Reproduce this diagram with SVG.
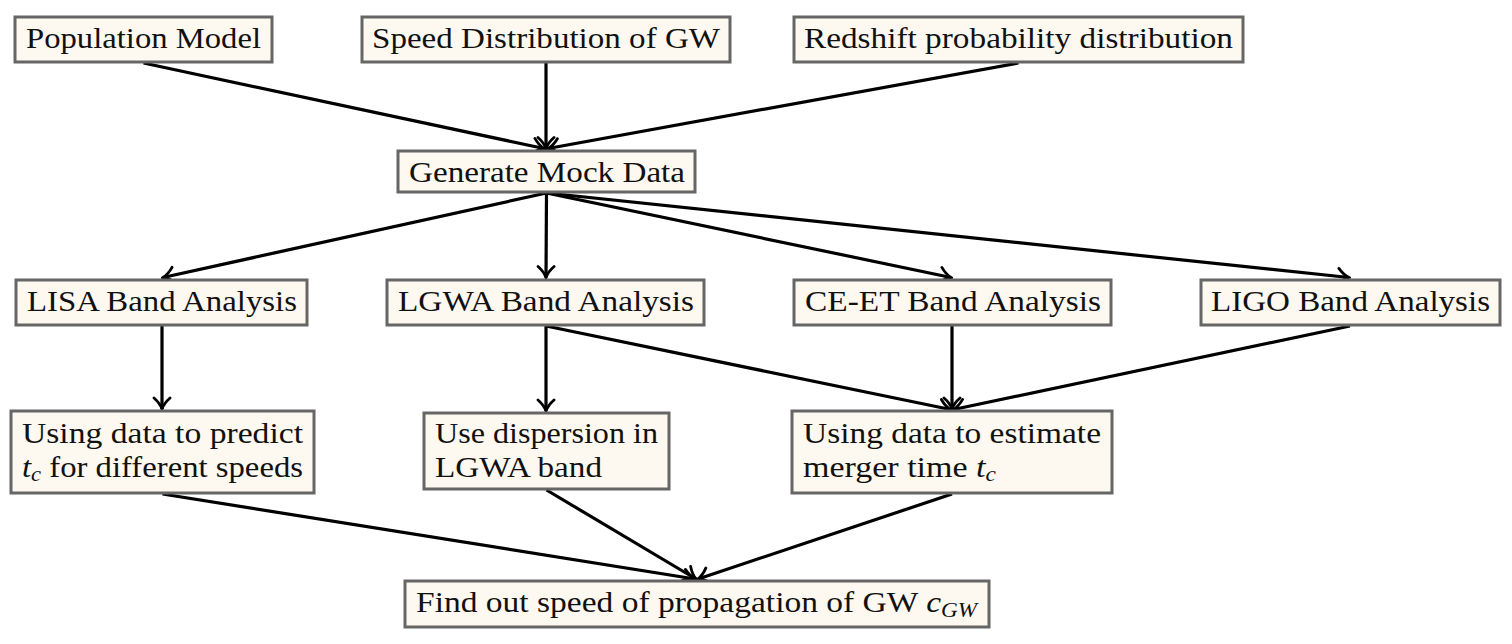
<svg xmlns="http://www.w3.org/2000/svg" width="1512" height="644" viewBox="0 0 1512 644">
<style>
.box{fill:#FDF8F0;stroke:#666666;stroke-width:3}
.t{font-family:"Liberation Serif","DejaVu Serif",serif;font-size:29px;fill:#111111}
.m{font-style:italic}
.s{font-style:italic;font-size:20px}
.c{fill:none;stroke:#000000;stroke-width:3.2;marker-end:url(#arr)}
</style>
<defs>
<marker id="arr" markerUnits="userSpaceOnUse" viewBox="-15 -11 17 22" refX="0" refY="0" markerWidth="17" markerHeight="22" orient="auto">
<path d="M -11 -8 C -7 -3.5, -2.5 -0.9, 0 0 C -2.5 0.9, -7 3.5, -11 8" fill="none" stroke="#000000" stroke-width="2.8" stroke-linecap="round"/>
</marker>
</defs>
<rect width="1512" height="644" fill="#FFFFFF"/>
<g id="connectors">
<line class="c" x1="143.5" y1="63" x2="544" y2="148.5"/>
<line class="c" x1="546" y1="63" x2="546" y2="148.5"/>
<line class="c" x1="1018.5" y1="63" x2="548" y2="148.5"/>
<line class="c" x1="546.5" y1="193" x2="163" y2="277.5"/>
<line class="c" x1="546.5" y1="193" x2="546" y2="277.5"/>
<line class="c" x1="546.5" y1="193" x2="951" y2="277.5"/>
<line class="c" x1="546.5" y1="193" x2="1349" y2="277.5"/>
<line class="c" x1="162" y1="326" x2="162" y2="409"/>
<line class="c" x1="546" y1="326" x2="546" y2="411"/>
<line class="c" x1="546" y1="326" x2="950.5" y2="409.5"/>
<line class="c" x1="952" y1="326" x2="952" y2="409"/>
<line class="c" x1="1350" y1="326" x2="953.5" y2="409.5"/>
<line class="c" x1="162.5" y1="494" x2="695" y2="579"/>
<line class="c" x1="546.5" y1="490" x2="696" y2="579"/>
<line class="c" x1="952" y1="494" x2="698" y2="579"/>
</g>
<g id="n-pop"><rect class="box" x="15" y="17" width="257" height="45"/><text class="t" x="26" y="48" textLength="235" lengthAdjust="spacingAndGlyphs">Population Model</text></g>
<g id="n-speed"><rect class="box" x="362" y="17" width="368" height="45"/><text class="t" x="372" y="48" textLength="348" lengthAdjust="spacingAndGlyphs">Speed Distribution of GW</text></g>
<g id="n-redshift"><rect class="box" x="794" y="17" width="449" height="45"/><text class="t" x="804" y="48" textLength="429" lengthAdjust="spacingAndGlyphs">Redshift probability distribution</text></g>
<g id="n-gen"><rect class="box" x="398" y="151" width="297" height="41"/><text class="t" x="409" y="182" textLength="276" lengthAdjust="spacingAndGlyphs">Generate Mock Data</text></g>
<g id="n-lisa"><rect class="box" x="16" y="280" width="291" height="45"/><text class="t" x="27" y="311" textLength="270" lengthAdjust="spacingAndGlyphs">LISA Band Analysis</text></g>
<g id="n-lgwa"><rect class="box" x="387" y="280" width="317" height="45"/><text class="t" x="398" y="311" textLength="296" lengthAdjust="spacingAndGlyphs">LGWA Band Analysis</text></g>
<g id="n-ceet"><rect class="box" x="794" y="280" width="317" height="45"/><text class="t" x="805" y="311" textLength="296" lengthAdjust="spacingAndGlyphs">CE-ET Band Analysis</text></g>
<g id="n-ligo"><rect class="box" x="1201" y="280" width="299" height="45"/><text class="t" x="1211" y="311" textLength="279" lengthAdjust="spacingAndGlyphs">LIGO Band Analysis</text></g>
<g id="n-predict"><rect class="box" x="11" y="411" width="303" height="82"/>
<text class="t" x="22" y="443" textLength="281" lengthAdjust="spacingAndGlyphs">Using data to predict</text>
<text class="t" x="22" y="477" textLength="281" lengthAdjust="spacingAndGlyphs"><tspan class="m">t</tspan><tspan class="s" dy="4">c</tspan><tspan dy="-4"> for different speeds</tspan></text></g>
<g id="n-dispersion"><rect class="box" x="424" y="413" width="245" height="76"/>
<text class="t" x="435" y="443" textLength="223" lengthAdjust="spacingAndGlyphs">Use dispersion in</text>
<text class="t" x="435" y="477" textLength="167" lengthAdjust="spacingAndGlyphs">LGWA band</text></g>
<g id="n-estimate"><rect class="box" x="792" y="411" width="320" height="82"/>
<text class="t" x="803" y="443" textLength="298" lengthAdjust="spacingAndGlyphs">Using data to estimate</text>
<text class="t" x="803" y="477" textLength="193" lengthAdjust="spacingAndGlyphs">merger time <tspan class="m">t</tspan><tspan class="s" dy="4">c</tspan></text></g>
<g id="n-find"><rect class="box" x="405" y="581" width="584" height="46"/>
<text class="t" x="416" y="612" textLength="561" lengthAdjust="spacingAndGlyphs">Find out speed of propagation of GW <tspan class="m">c</tspan><tspan class="s" dy="5">GW</tspan></text></g>
</svg>
